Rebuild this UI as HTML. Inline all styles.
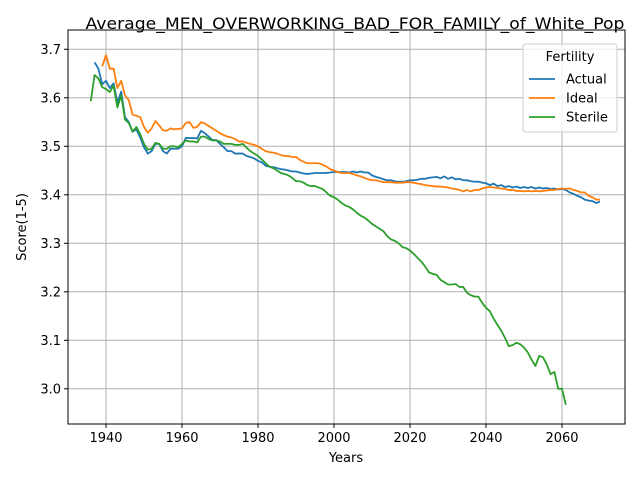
<!DOCTYPE html>
<html><head><meta charset="utf-8"><style>
body{margin:0;background:#fff}
svg{display:block;font-family:"DejaVu Sans","Liberation Sans",sans-serif}
</style></head><body>
<svg id="chart" width="640" height="480" viewBox="0 0 640 480" xmlns="http://www.w3.org/2000/svg">
<rect x="0" y="0" width="640" height="480" fill="#fff"/>
<text x="355" y="29" text-anchor="middle" font-size="16" textLength="539" lengthAdjust="spacingAndGlyphs" fill="#000">Average_MEN_OVERWORKING_BAD_FOR_FAMILY_of_White_Pop</text>
<g id="grid"></g>
<g id="series"></g>
<rect x="68" y="30" width="557" height="394" fill="none" stroke="#000" stroke-width="1"/>
<g id="ticks"></g>
<text x="346" y="462" text-anchor="middle" font-size="13">Years</text>
<text x="26" y="227" text-anchor="middle" font-size="13" transform="rotate(-90 26 227)">Score(1-5)</text>
<g id="legend">
<rect x="523" y="44" width="94" height="88" rx="3" fill="#fff" fill-opacity="0.8" stroke="#ccc"/>
<text x="570" y="61" text-anchor="middle" font-size="13">Fertility</text>
</g>
</svg>
<script>
const actualYears0 = 1937;
const actualValues = [3.673,3.66,3.628,3.635,3.62,3.63,3.59,3.613,3.56,3.55,3.53,3.535,3.518,3.498,3.485,3.49,3.505,3.505,3.49,3.485,3.495,3.495,3.495,3.5,3.517,3.517,3.517,3.516,3.532,3.527,3.52,3.513,3.513,3.505,3.498,3.49,3.49,3.485,3.485,3.485,3.48,3.478,3.475,3.47,3.467,3.46,3.458,3.457,3.455,3.453,3.452,3.45,3.448,3.448,3.446,3.444,3.443,3.444,3.445,3.445,3.445,3.445,3.446,3.447,3.447,3.447,3.447,3.446,3.448,3.446,3.448,3.446,3.446,3.44,3.437,3.435,3.432,3.43,3.43,3.428,3.427,3.427,3.428,3.43,3.43,3.431,3.433,3.433,3.435,3.436,3.437,3.434,3.438,3.433,3.436,3.432,3.433,3.43,3.43,3.428,3.427,3.427,3.425,3.424,3.42,3.423,3.418,3.42,3.416,3.418,3.415,3.417,3.414,3.416,3.414,3.416,3.413,3.415,3.413,3.414,3.412,3.413,3.411,3.412,3.41,3.405,3.402,3.398,3.395,3.39,3.388,3.387,3.383,3.386];
const idealYears0 = 1939;
const idealValues = [3.665,3.688,3.66,3.66,3.62,3.635,3.605,3.595,3.565,3.563,3.56,3.54,3.528,3.537,3.552,3.543,3.533,3.532,3.537,3.535,3.536,3.537,3.548,3.55,3.538,3.54,3.55,3.547,3.542,3.537,3.532,3.527,3.523,3.52,3.518,3.515,3.51,3.51,3.507,3.505,3.503,3.5,3.495,3.49,3.488,3.487,3.485,3.482,3.48,3.48,3.478,3.478,3.472,3.468,3.465,3.465,3.465,3.465,3.462,3.458,3.453,3.45,3.447,3.445,3.445,3.445,3.443,3.44,3.438,3.435,3.432,3.43,3.43,3.428,3.426,3.426,3.426,3.425,3.425,3.425,3.426,3.426,3.425,3.423,3.422,3.42,3.419,3.418,3.417,3.417,3.416,3.415,3.413,3.412,3.41,3.407,3.41,3.407,3.41,3.41,3.413,3.415,3.416,3.415,3.414,3.413,3.412,3.41,3.41,3.408,3.408,3.407,3.408,3.407,3.408,3.407,3.408,3.409,3.41,3.41,3.412,3.413,3.412,3.413,3.41,3.408,3.405,3.405,3.398,3.395,3.39,3.39];
const sterileYears0 = 1936;
const sterileValues = [3.593,3.647,3.64,3.622,3.618,3.612,3.625,3.58,3.605,3.555,3.548,3.53,3.54,3.525,3.505,3.493,3.495,3.507,3.505,3.495,3.495,3.5,3.5,3.498,3.505,3.512,3.51,3.51,3.508,3.52,3.52,3.515,3.512,3.512,3.51,3.505,3.505,3.505,3.503,3.503,3.505,3.497,3.49,3.485,3.48,3.473,3.465,3.458,3.455,3.45,3.445,3.443,3.44,3.435,3.428,3.428,3.425,3.42,3.418,3.418,3.415,3.412,3.405,3.398,3.395,3.39,3.383,3.378,3.375,3.37,3.363,3.357,3.353,3.347,3.34,3.335,3.33,3.325,3.315,3.308,3.305,3.3,3.292,3.29,3.285,3.278,3.27,3.262,3.252,3.24,3.237,3.235,3.225,3.22,3.215,3.215,3.216,3.21,3.21,3.198,3.193,3.19,3.19,3.177,3.167,3.16,3.145,3.132,3.12,3.105,3.088,3.09,3.095,3.092,3.085,3.075,3.06,3.047,3.068,3.065,3.05,3.03,3.035,3.0,3.0,2.967];
const xTicks = [1940,1960,1980,2000,2020,2040,2060];
const yTicks = [3.0,3.1,3.2,3.3,3.4,3.5,3.6,3.7];
const seriesNames = ["Actual","Ideal","Sterile"];

const NS="http://www.w3.org/2000/svg";
function X(yr){return 106+(yr-1940)*3.8;}
function Y(v){return 49.3+(3.7-v)*485;}
function mk(tag,attrs,parent){const e=document.createElementNS(NS,tag);for(const k in attrs)e.setAttribute(k,attrs[k]);parent.appendChild(e);return e;}
const grid=document.getElementById('grid'),ticks=document.getElementById('ticks'),ser=document.getElementById('series'),leg=document.getElementById('legend');
xTicks.forEach(t=>{
  const g=mk('line',{x1:X(t),x2:X(t),y1:30,y2:424,stroke:'#b0b0b0','stroke-width':1},grid);
  
  
  mk('line',{x1:X(t),x2:X(t),y1:424,y2:428,stroke:'#000'},ticks);
  const tx=mk('text',{x:X(t),y:442,'text-anchor':'middle','font-size':13},ticks);
  tx.textContent=t;
  
  
});
yTicks.forEach(t=>{
  const g=mk('line',{x1:68,x2:625,y1:Y(t),y2:Y(t),stroke:'#b0b0b0','stroke-width':1},grid);
  
  
  mk('line',{x1:64,x2:68,y1:Y(t),y2:Y(t),stroke:'#000'},ticks);
  const tx=mk('text',{x:61,y:Y(t)+4.5,'text-anchor':'end','font-size':13},ticks);
  tx.textContent=t.toFixed(1);
  
  
});
const sets=[[actualYears0,actualValues,'#1f77b4'],[idealYears0,idealValues,'#ff7f0e'],[sterileYears0,sterileValues,'#2ca02c']];
sets.forEach((s,i)=>{
  const pts=s[1].map((v,j)=>X(s[0]+j).toFixed(2)+','+Y(v).toFixed(2)).join(' ');
  const p=mk('polyline',{points:pts,fill:'none',stroke:s[2],'stroke-width':1.8,'stroke-linejoin':'round'},ser);
  
  
  const ly=79+i*19;
  const ln=mk('line',{x1:529,x2:555,y1:ly,y2:ly,stroke:s[2],'stroke-width':1.8},leg);
  
  
  const lt=mk('text',{x:566,y:ly+4.5,'font-size':13},leg);
  lt.textContent=seriesNames[i];
  
  
});
</script>
</body></html>
